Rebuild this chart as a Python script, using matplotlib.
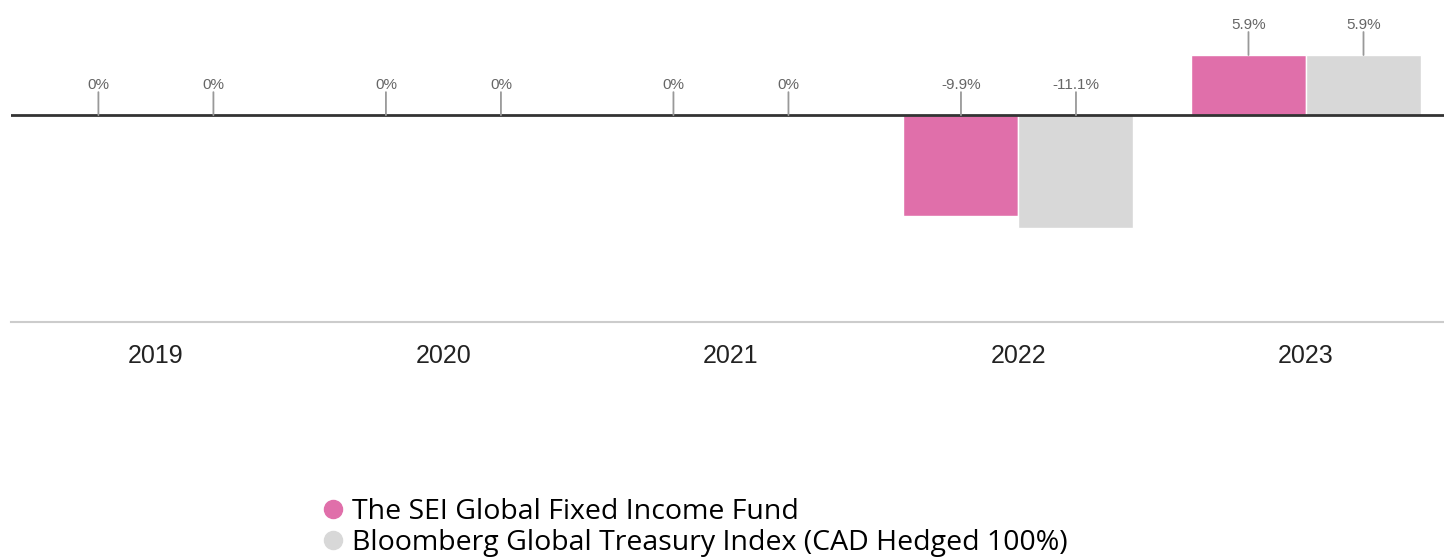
import matplotlib
matplotlib.use("Agg")
import matplotlib.pyplot as plt
from matplotlib.lines import Line2D
import numpy as np

years = ["2019", "2020", "2021", "2022", "2023"]
fund = [0.0, 0.0, 0.0, -9.9, 5.9]
bench = [0.0, 0.0, 0.0, -11.1, 5.9]
fund_labels = ["0%", "0%", "0%", "-9.9%", "5.9%"]
bench_labels = ["0%", "0%", "0%", "-11.1%", "5.9%"]
series_names = ["The SEI Global Fixed Income Fund",
                "Bloomberg Global Treasury Index (CAD Hedged 100%)"]
colors = ["#E06FAA", "#D8D8D8"]

W, H = 1444, 557
fig = plt.figure(figsize=(W / 100, H / 100), dpi=100)
ax = fig.add_axes([11 / W, (H - 322) / H, 1433 / W, 322 / H])

x = np.arange(len(years))
bw = 0.4
ax.bar(x - bw / 2, fund, width=bw, color=colors[0], edgecolor="white", linewidth=1)
ax.bar(x + bw / 2, bench, width=bw, color=colors[1], edgecolor="white", linewidth=1)

ax.set_xlim(-0.504, 4.48)
ax.set_ylim(-20.3, 11.3)
ax.axhline(0, color="#333333", linewidth=2, zorder=3)

for xs, vals, labs in ((x - bw / 2, fund, fund_labels), (x + bw / 2, bench, bench_labels)):
    for xi, v, lab in zip(xs, vals, labs):
        top = max(v, 0)
        ax.annotate("", xy=(xi, top), xycoords="data", xytext=(0, 23),
                    textcoords="offset pixels",
                    arrowprops=dict(arrowstyle="-", color="#999999", lw=1.3,
                                    shrinkA=0, shrinkB=0), zorder=4)
        ax.annotate(lab, xy=(xi, top), xycoords="data", xytext=(0, 26),
                    textcoords="offset pixels", ha="center", va="baseline",
                    fontsize=11, color="#666666", family="Liberation Sans")

for s in ax.spines.values():
    s.set_visible(False)
ax.spines["bottom"].set_visible(True)
ax.spines["bottom"].set_color("#CCCCCC")
ax.spines["bottom"].set_linewidth(1.5)
ax.set_yticks([])
ax.set_xticks(x)
ax.set_xticklabels(years, fontsize=18, color="#222222", family="Liberation Sans")
ax.tick_params(axis="x", length=0, pad=16)

handles = [Line2D([], [], marker="o", linestyle="none", markersize=13,
                  markerfacecolor=c, markeredgecolor=c) for c in colors]
fig.legend(handles, series_names, loc="upper left",
           bbox_to_anchor=(324 / W, 1 - 498 / H), frameon=False,
           prop={"family": "Open Sans", "size": 20.5},
           handlelength=0.6, handletextpad=0.4, labelspacing=0.12,
           borderpad=0, borderaxespad=0)

fig.savefig("out.png", dpi=100)
